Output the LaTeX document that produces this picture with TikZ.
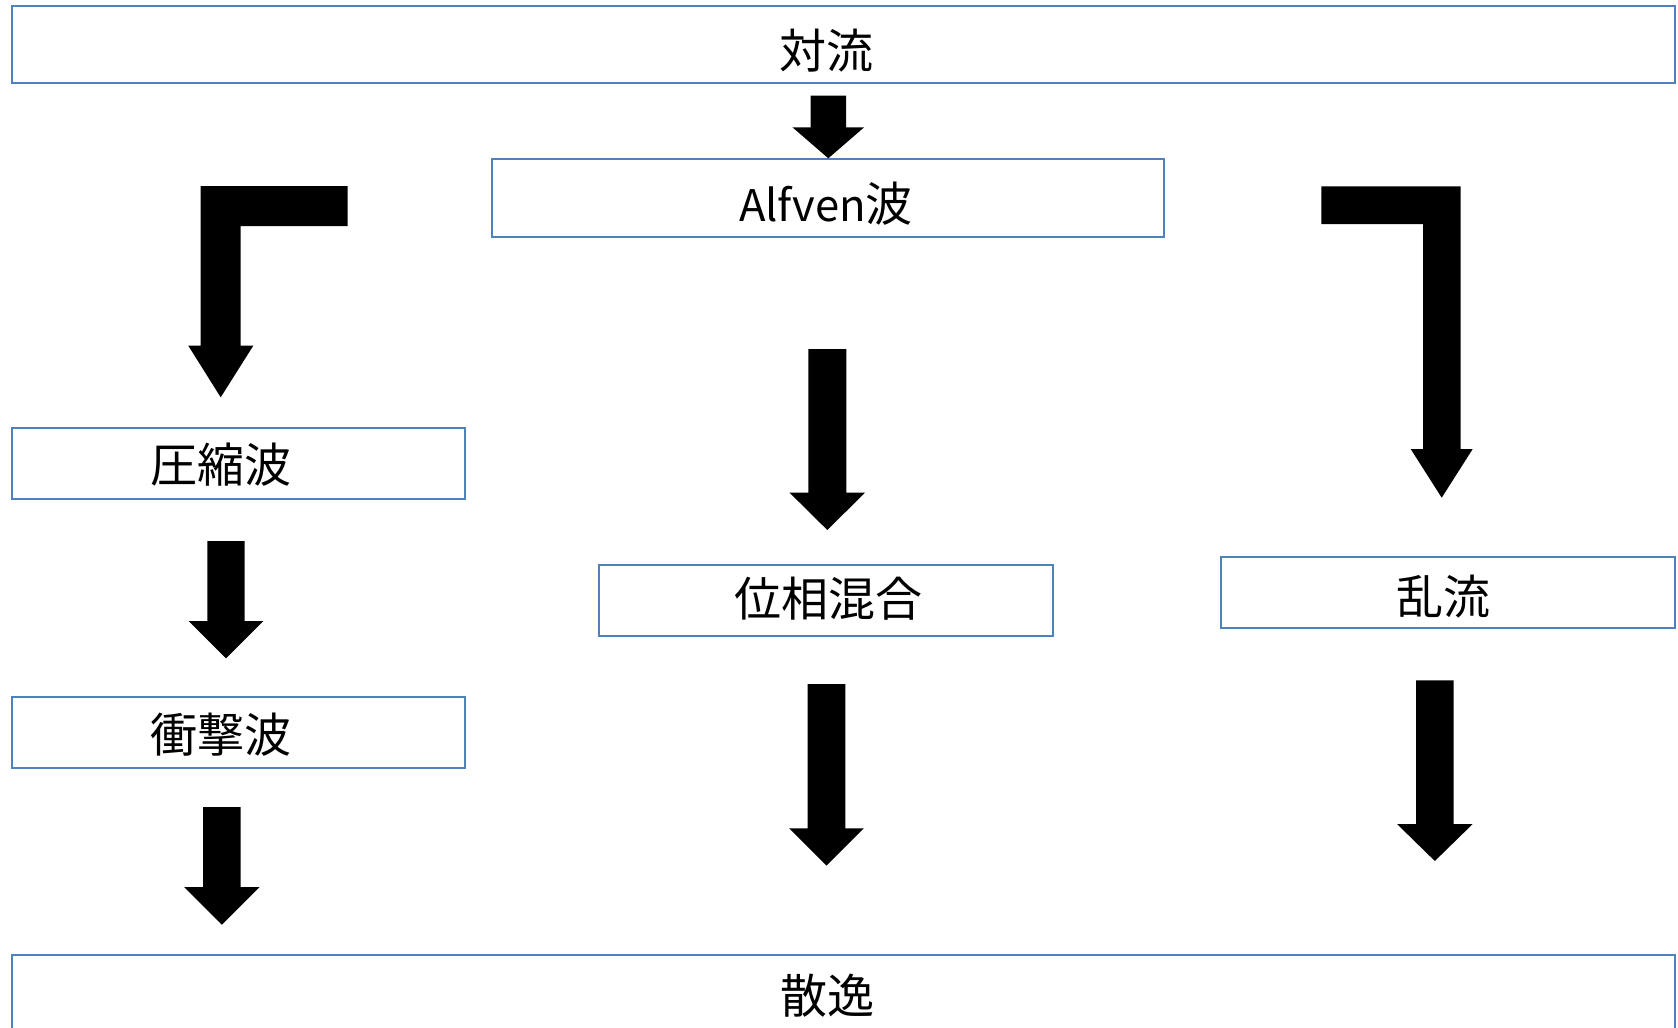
\documentclass[tikz,border=0pt]{standalone}
\usepackage{fontspec}
\setmainfont{Noto Sans CJK JP}
\definecolor{boxblue}{RGB}{79,129,189}
\tikzset{
  box/.style={draw=boxblue, line width=1pt, rectangle, inner sep=0pt, outer sep=0pt, fill=none},
  lbl/.style={inner sep=0pt, outer sep=0pt, font=\fontsize{23.5pt}{28pt}\selectfont, anchor=base},
  blk/.style={fill=black, draw=none}
}
% #1 centre x, #2 shaft top y, #3 head start y, #4 tip y, #5 shaft half width, #6 head half width
\newcommand{\downblock}[6]{%
  \fill[blk] (#1-#5,#2) -- (#1+#5,#2) -- (#1+#5,#3) -- (#1+#6,#3) -- (#1,#4)
    -- (#1-#6,#3) -- (#1-#5,#3) -- cycle;}
\begin{document}
\begin{tikzpicture}[x=0.5pt,y=-0.5pt]
\useasboundingbox (0,0) rectangle (1678,1028);
\fill[white] (0,0) rectangle (1678,1028);
\clip (0,0) rectangle (1678,1028);

% boxes
\node[box, minimum width=831.65pt, minimum height=38.65pt] (tairyu) at (843.35,44.65) {};
\node[box, minimum width=336.15pt, minimum height=38.7pt] (alfven) at (827.85,198) {};
\node[box, minimum width=226.8pt, minimum height=35.5pt] (asshuku) at (238.5,463.2) {};
\node[box, minimum width=226.8pt, minimum height=35.65pt] (shogeki) at (238.5,732.35) {};
\node[box, minimum width=227pt, minimum height=35.35pt] (iso) at (826.3,600.65) {};
\node[box, minimum width=227.15pt, minimum height=35.5pt] (ranryu) at (1447.85,592.2) {};
\node[box, minimum width=831.65pt, minimum height=42.75pt] (sanitsu) at (843.35,997.25) {};

% labels
\node[lbl] (t1) at (826.7,68.4) {対流};
\node[lbl] (t2) at (826,221.7) {{\fontsize{21.8pt}{26pt}\selectfont Alfven}波};
\node[lbl] (t3) at (221.4,482.7) {圧縮波};
\node[lbl] (t4) at (221,752.7) {衝撃波};
\node[lbl] (t5) at (828.3,616.7) {位相混合};
\node[lbl] (t6) at (1443,614.4) {乱流};
\node[lbl] (t7) at (827.5,1013.4) {散逸};

% straight block arrows
\downblock{828.3}{95.7}{127.3}{158.3}{17.8}{35.85}
\downblock{827.3}{349}{492.7}{530}{19}{37.7}
\downblock{826.5}{684}{828.3}{865.7}{18.8}{37.35}
\downblock{226}{541}{621}{658.3}{18.7}{37.3}
\downblock{221.85}{807}{887}{924.7}{18.85}{37.7}
\downblock{1434.85}{680.3}{824}{861}{18.85}{37.85}

% bent block arrows
\fill[blk] (347.7,186) -- (200.7,186) -- (200.7,345.7) -- (188.3,345.7) -- (220.7,397.3)
  -- (253.3,345.7) -- (240.7,345.7) -- (240.7,226) -- (347.7,226) -- cycle;
\fill[blk] (1321.3,186.3) -- (1460.7,186.3) -- (1460.7,449) -- (1472.7,449) -- (1441.7,497.7)
  -- (1410.7,449) -- (1423,449) -- (1423,224) -- (1321.3,224) -- cycle;
\end{tikzpicture}
\end{document}
